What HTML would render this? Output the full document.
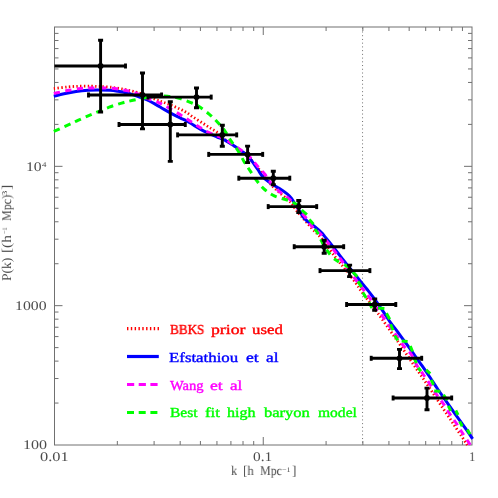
<!DOCTYPE html>
<html><head><meta charset="utf-8"><style>
html,body{margin:0;padding:0;background:#fff;}
#p{position:relative;width:498px;height:498px;overflow:hidden;background:#fff;font-family:"Liberation Serif",serif;color:#4c4c4c;}
.w{position:absolute;white-space:nowrap;line-height:1;transform-origin:0 0;display:block;will-change:transform;text-rendering:geometricPrecision;}
#yl{position:absolute;left:11.3px;top:281.0px;width:0;height:0;transform:rotate(-90deg);transform-origin:0 0;}
</style></head><body><div id="p">
<svg width="498" height="498" viewBox="0 0 498 498" style="position:absolute;left:0;top:0">
<defs><clipPath id="c"><rect x="54.5" y="27.0" width="417.5" height="418.0"/></clipPath></defs>
<g stroke="#707070" stroke-width="1" fill="none">
<rect x="54.5" y="27.0" width="417.5" height="418.0"/>
<path d="M117.34 445.0v-4 M117.34 27.0v4"/>
<path d="M154.10 445.0v-4 M154.10 27.0v4"/>
<path d="M180.18 445.0v-4 M180.18 27.0v4"/>
<path d="M200.41 445.0v-4 M200.41 27.0v4"/>
<path d="M216.94 445.0v-4 M216.94 27.0v4"/>
<path d="M230.91 445.0v-4 M230.91 27.0v4"/>
<path d="M243.02 445.0v-4 M243.02 27.0v4"/>
<path d="M253.70 445.0v-4 M253.70 27.0v4"/>
<path d="M263.25 445.0v-8 M263.25 27.0v8"/>
<path d="M326.09 445.0v-4 M326.09 27.0v4"/>
<path d="M362.85 445.0v-4 M362.85 27.0v4"/>
<path d="M388.93 445.0v-4 M388.93 27.0v4"/>
<path d="M409.16 445.0v-4 M409.16 27.0v4"/>
<path d="M425.69 445.0v-4 M425.69 27.0v4"/>
<path d="M439.66 445.0v-4 M439.66 27.0v4"/>
<path d="M451.77 445.0v-4 M451.77 27.0v4"/>
<path d="M462.45 445.0v-4 M462.45 27.0v4"/>
<path d="M54.5 403.06h4 M472.0 403.06h-4"/>
<path d="M54.5 378.52h4 M472.0 378.52h-4"/>
<path d="M54.5 361.11h4 M472.0 361.11h-4"/>
<path d="M54.5 347.61h4 M472.0 347.61h-4"/>
<path d="M54.5 336.58h4 M472.0 336.58h-4"/>
<path d="M54.5 327.25h4 M472.0 327.25h-4"/>
<path d="M54.5 319.17h4 M472.0 319.17h-4"/>
<path d="M54.5 312.04h4 M472.0 312.04h-4"/>
<path d="M54.5 305.67h8 M472.0 305.67h-8"/>
<path d="M54.5 263.72h4 M472.0 263.72h-4"/>
<path d="M54.5 239.19h4 M472.0 239.19h-4"/>
<path d="M54.5 221.78h4 M472.0 221.78h-4"/>
<path d="M54.5 208.28h4 M472.0 208.28h-4"/>
<path d="M54.5 197.24h4 M472.0 197.24h-4"/>
<path d="M54.5 187.92h4 M472.0 187.92h-4"/>
<path d="M54.5 179.84h4 M472.0 179.84h-4"/>
<path d="M54.5 172.71h4 M472.0 172.71h-4"/>
<path d="M54.5 166.33h8 M472.0 166.33h-8"/>
<path d="M54.5 124.39h4 M472.0 124.39h-4"/>
<path d="M54.5 99.85h4 M472.0 99.85h-4"/>
<path d="M54.5 82.45h4 M472.0 82.45h-4"/>
<path d="M54.5 68.94h4 M472.0 68.94h-4"/>
<path d="M54.5 57.91h4 M472.0 57.91h-4"/>
<path d="M54.5 48.58h4 M472.0 48.58h-4"/>
<path d="M54.5 40.50h4 M472.0 40.50h-4"/>
<path d="M54.5 33.38h4 M472.0 33.38h-4"/>
</g>
<path d="M362.55 27.75V445.0" stroke="#707070" stroke-width="1" stroke-dasharray="1 2.73" fill="none"/>
<g fill="none" stroke-linecap="butt" stroke-linejoin="round">
<path d="M53.80 88.60 C56.17 88.32 63.63 87.30 68.00 86.90 C72.37 86.50 76.10 86.32 80.00 86.20 C83.90 86.08 88.07 86.15 91.40 86.20 C94.73 86.25 96.90 86.35 100.00 86.50 C103.10 86.65 106.33 86.70 110.00 87.10 C113.67 87.50 118.25 88.22 122.00 88.90 C125.75 89.58 129.08 90.32 132.50 91.20 C135.92 92.08 138.58 92.78 142.50 94.20 C146.42 95.62 152.40 98.32 156.00 99.70 C159.60 101.08 161.42 101.52 164.10 102.50 C166.78 103.48 169.43 104.50 172.10 105.60 C174.77 106.70 177.68 107.93 180.10 109.10 C182.52 110.27 184.45 111.28 186.60 112.60 C188.75 113.92 190.58 115.42 193.00 117.00 C195.42 118.58 198.42 120.38 201.10 122.10 C203.78 123.82 206.43 125.60 209.10 127.30 C211.77 129.00 214.48 130.30 217.10 132.30 C219.72 134.30 222.32 137.30 224.80 139.30 C227.28 141.30 229.45 142.47 232.00 144.30 C234.55 146.13 237.68 148.52 240.10 150.30 C242.52 152.08 244.50 153.25 246.50 155.00 C248.50 156.75 250.28 158.72 252.10 160.80 C253.92 162.88 255.32 165.05 257.40 167.50 C259.48 169.95 262.33 172.67 264.60 175.50 C266.87 178.33 268.58 181.70 271.00 184.50 C273.42 187.30 276.15 189.63 279.10 192.30 C282.05 194.97 286.48 198.42 288.70 200.50 C290.92 202.58 291.05 203.07 292.40 204.80 C293.75 206.53 295.32 209.00 296.80 210.90 C298.28 212.80 299.68 214.32 301.30 216.20 C302.92 218.08 304.43 219.85 306.50 222.20 C308.57 224.55 311.18 227.58 313.70 230.30 C316.22 233.02 318.82 235.13 321.60 238.50 C324.38 241.87 327.78 246.98 330.40 250.50 C333.02 254.02 334.88 256.55 337.30 259.60 C339.72 262.65 341.82 264.90 344.90 268.80 C347.98 272.70 353.25 279.52 355.80 283.00 C358.35 286.48 358.33 287.07 360.20 289.70 C362.07 292.33 363.98 294.78 367.00 298.80 C370.02 302.82 374.33 308.35 378.30 313.80 C382.27 319.25 387.58 326.95 390.80 331.50 C394.02 336.05 394.00 335.87 397.60 341.10 C401.20 346.33 407.45 355.65 412.40 362.90 C417.35 370.15 422.78 377.90 427.30 384.60 C431.82 391.30 435.38 396.90 439.50 403.10 C443.62 409.30 447.83 415.53 452.00 421.80 C456.17 428.07 461.95 436.83 464.50 440.70 C467.05 444.57 466.83 444.28 467.30 445.00" stroke="#ff0000" stroke-width="2.8" stroke-dasharray="1.4 2.36"/>
<path d="M53.80 96.30 C55.50 95.87 60.28 94.52 64.00 93.70 C67.72 92.88 72.08 91.98 76.10 91.40 C80.12 90.82 84.28 90.43 88.10 90.20 C91.92 89.97 95.35 89.98 99.00 90.00 C102.65 90.02 106.83 90.08 110.00 90.30 C113.17 90.52 115.32 90.88 118.00 91.30 C120.68 91.72 123.42 92.17 126.10 92.80 C128.78 93.43 131.43 94.23 134.10 95.10 C136.77 95.97 139.55 97.02 142.10 98.00 C144.65 98.98 147.08 99.90 149.40 101.00 C151.72 102.10 153.55 103.20 156.00 104.60 C158.45 106.00 161.42 107.85 164.10 109.40 C166.78 110.95 169.43 112.48 172.10 113.90 C174.77 115.32 177.45 116.62 180.10 117.90 C182.75 119.18 185.85 120.45 188.00 121.60 C190.15 122.75 190.82 123.47 193.00 124.80 C195.18 126.13 198.42 128.15 201.10 129.60 C203.78 131.05 206.43 132.27 209.10 133.50 C211.77 134.73 214.48 135.88 217.10 137.00 C219.72 138.12 222.32 138.93 224.80 140.20 C227.28 141.47 229.45 142.95 232.00 144.60 C234.55 146.25 237.68 148.38 240.10 150.10 C242.52 151.82 244.50 153.03 246.50 154.90 C248.50 156.77 250.22 158.87 252.10 161.30 C253.98 163.73 255.98 166.88 257.80 169.50 C259.62 172.12 260.78 174.67 263.00 177.00 C265.22 179.33 268.42 181.62 271.10 183.50 C273.78 185.38 276.43 186.57 279.10 188.30 C281.77 190.03 285.03 192.22 287.10 193.90 C289.17 195.58 289.85 196.18 291.50 198.40 C293.15 200.62 294.90 203.93 297.00 207.20 C299.10 210.47 302.10 215.45 304.10 218.00 C306.10 220.55 307.27 221.08 309.00 222.50 C310.73 223.92 312.38 224.78 314.50 226.50 C316.62 228.22 319.98 231.12 321.70 232.80 C323.42 234.48 323.08 234.50 324.80 236.60 C326.52 238.70 329.45 242.18 332.00 245.40 C334.55 248.62 337.55 252.65 340.10 255.90 C342.65 259.15 344.28 261.15 347.30 264.90 C350.32 268.65 354.92 274.33 358.20 278.40 C361.48 282.47 364.45 286.08 367.00 289.30 C369.55 292.52 370.82 294.03 373.50 297.70 C376.18 301.37 380.35 307.28 383.10 311.30 C385.85 315.32 387.52 318.28 390.00 321.80 C392.48 325.32 395.32 328.80 398.00 332.40 C400.68 336.00 403.43 339.73 406.10 343.40 C408.77 347.07 411.35 350.68 414.00 354.40 C416.65 358.12 419.32 361.85 422.00 365.70 C424.68 369.55 427.60 373.78 430.10 377.50 C432.60 381.22 434.50 384.30 437.00 388.00 C439.50 391.70 442.42 395.85 445.10 399.70 C447.78 403.55 450.60 407.57 453.10 411.10 C455.60 414.63 457.60 417.40 460.10 420.90 C462.60 424.40 466.02 429.10 468.10 432.10 C470.18 435.10 471.85 437.77 472.60 438.90" stroke="#0000ff" stroke-width="3"/>
<path d="M53.80 93.40 C54.37 93.28 54.68 93.22 57.20 92.70 C59.72 92.18 65.02 90.98 68.90 90.30 C72.78 89.62 76.98 88.98 80.50 88.60 C84.02 88.22 86.42 88.10 90.00 88.00 C93.58 87.90 97.87 87.90 102.00 88.00 C106.13 88.10 110.72 88.17 114.80 88.60 C118.88 89.03 122.88 89.80 126.50 90.60 C130.12 91.40 132.92 92.08 136.50 93.40 C140.08 94.72 144.22 96.93 148.00 98.50 C151.78 100.07 155.92 101.35 159.20 102.80 C162.48 104.25 164.28 105.27 167.70 107.20 C171.12 109.13 175.98 112.10 179.70 114.40 C183.42 116.70 186.62 118.82 190.00 121.00 C193.38 123.18 196.82 125.58 200.00 127.50 C203.18 129.42 206.25 131.12 209.10 132.50 C211.95 133.88 214.48 134.72 217.10 135.80 C219.72 136.88 222.32 137.67 224.80 139.00 C227.28 140.33 229.45 142.03 232.00 143.80 C234.55 145.57 237.68 147.90 240.10 149.60 C242.52 151.30 244.50 152.35 246.50 154.00 C248.50 155.65 250.28 157.50 252.10 159.50 C253.92 161.50 255.32 163.58 257.40 166.00 C259.48 168.42 262.33 171.17 264.60 174.00 C266.87 176.83 268.58 180.12 271.00 183.00 C273.42 185.88 276.15 188.72 279.10 191.30 C282.05 193.88 285.72 195.80 288.70 198.50 C291.68 201.20 294.30 204.50 297.00 207.50 C299.70 210.50 302.52 213.47 304.90 216.50 C307.28 219.53 308.78 222.87 311.30 225.70 C313.82 228.53 317.15 230.58 320.00 233.50 C322.85 236.42 325.78 240.00 328.40 243.20 C331.02 246.40 333.48 249.78 335.70 252.70 C337.92 255.62 339.48 257.73 341.70 260.70 C343.92 263.67 346.58 267.22 349.00 270.50 C351.42 273.78 353.87 277.28 356.20 280.40 C358.53 283.52 360.72 286.25 363.00 289.20 C365.28 292.15 367.07 294.22 369.90 298.10 C372.73 301.98 376.65 307.68 380.00 312.50 C383.35 317.32 387.20 323.07 390.00 327.00 C392.80 330.93 394.45 332.85 396.80 336.10 C399.15 339.35 401.70 343.45 404.10 346.50 C406.50 349.55 409.02 351.17 411.20 354.40 C413.38 357.63 415.18 362.55 417.20 365.90 C419.22 369.25 421.27 371.60 423.30 374.50 C425.33 377.40 427.18 379.97 429.40 383.30 C431.62 386.63 434.32 391.17 436.60 394.50 C438.88 397.83 441.00 400.22 443.10 403.30 C445.20 406.38 447.03 409.72 449.20 413.00 C451.37 416.28 453.95 419.75 456.10 423.00 C458.25 426.25 460.03 429.32 462.10 432.50 C464.17 435.68 467.15 440.02 468.50 442.10 C469.85 444.18 469.92 444.52 470.20 445.00" stroke="#ff00ff" stroke-width="3" stroke-dasharray="6.3 5.37"/>
<path d="M53.80 131.40 C56.12 130.37 63.68 127.03 67.70 125.20 C71.72 123.37 74.40 121.98 77.90 120.40 C81.40 118.82 85.28 117.17 88.70 115.70 C92.12 114.23 94.98 113.02 98.40 111.60 C101.82 110.18 105.33 108.62 109.20 107.20 C113.07 105.78 117.65 104.25 121.60 103.10 C125.55 101.95 128.95 101.18 132.90 100.30 C136.85 99.42 141.12 98.48 145.30 97.80 C149.48 97.12 154.28 96.47 158.00 96.20 C161.72 95.93 164.08 95.85 167.60 96.20 C171.12 96.55 175.33 97.28 179.10 98.30 C182.87 99.32 187.02 101.02 190.20 102.30 C193.38 103.58 195.05 104.03 198.20 106.00 C201.35 107.97 205.95 111.48 209.10 114.10 C212.25 116.72 214.48 118.92 217.10 121.70 C219.72 124.48 222.45 127.55 224.80 130.80 C227.15 134.05 229.05 137.95 231.20 141.20 C233.35 144.45 235.62 147.02 237.70 150.30 C239.78 153.58 241.83 157.78 243.70 160.90 C245.57 164.02 246.62 165.57 248.90 169.00 C251.18 172.43 254.78 178.08 257.40 181.50 C260.02 184.92 261.78 187.10 264.60 189.50 C267.42 191.90 270.82 194.23 274.30 195.90 C277.78 197.57 283.12 198.73 285.50 199.50 C287.88 200.27 288.08 200.33 288.60 200.50" stroke="#00ff00" stroke-width="3" stroke-dasharray="6.5 5.15"/>
<path d="M292.7 202.2L298.5 205.4 M301.7 210.0L306.9 214.6 M309.3 219.4L313.5 224.2 M314.9 229.0L318.5 234.2 M320.7 239.3L323.6 245.2 M326.5 249.6L330.1 254.5 M334.0 258.8L338.9 262.1 M344.3 264.5L349.7 267.9 M352.8 272.0L357.3 276.6 M358.0 281.4L361.6 287.1 M362.9 292.5L366.2 298.0 M369.0 302.2L372.0 308.0 M378.0 307.9L384.4 308.5 M386.4 313.3L389.7 319.3 M390.6 324.2L393.0 330.2 M394.7 335.5L397.8 340.4 M401.7 341.0L407.6 341.6 M410.3 346.0L412.5 351.5 M413.6 357.0L416.4 363.2 M418.2 367.7L421.0 371.2 M426.1 369.8L430.2 373.6 M431.3 379.9L433.5 384.8 M434.2 391.0L440.3 391.3 M443.5 394.7L447.1 400.2 M448.3 405.9L450.8 410.9 M455.8 410.5L458.0 415.0 M459.7 421.4L462.2 426.2 M467.3 429.5L470.0 434.3" stroke="#00ff00" stroke-width="3"/>
</g>
<g stroke="#000" stroke-width="2.9" fill="none">
<path d="M54.5 66.0H125.5 M100.6 40.3V112.0"/>
<path d="M125.5 63.5v5"/>
<path d="M98.1 40.3h5 M98.1 112.0h5"/>
<circle cx="100.6" cy="66.0" r="2.9" fill="#000" stroke="none"/>
<path d="M88.5 95.0H161.6 M142.5 73.0V128.9"/>
<path d="M88.5 92.5v5"/>
<path d="M161.6 92.5v5"/>
<path d="M140.0 73.0h5 M140.0 128.9h5"/>
<circle cx="142.5" cy="95.0" r="2.9" fill="#000" stroke="none"/>
<path d="M119.0 124.5H185.3 M170.3 101.7V161.4"/>
<path d="M119.0 122.0v5"/>
<path d="M185.3 122.0v5"/>
<path d="M167.8 101.7h5 M167.8 161.4h5"/>
<circle cx="170.3" cy="124.5" r="2.9" fill="#000" stroke="none"/>
<path d="M148.0 97.1H211.2 M196.5 88.0V107.8"/>
<path d="M148.0 94.6v5"/>
<path d="M211.2 94.6v5"/>
<path d="M194.0 88.0h5 M194.0 107.8h5"/>
<circle cx="196.5" cy="97.1" r="2.9" fill="#000" stroke="none"/>
<path d="M177.6 134.9H236.7 M222.3 125.2V146.3"/>
<path d="M177.6 132.4v5"/>
<path d="M236.7 132.4v5"/>
<path d="M219.8 125.2h5 M219.8 146.3h5"/>
<circle cx="222.3" cy="134.9" r="2.9" fill="#000" stroke="none"/>
<path d="M208.7 154.4H262.7 M247.6 146.1V162.6"/>
<path d="M208.7 151.9v5"/>
<path d="M262.7 151.9v5"/>
<path d="M245.1 146.1h5 M245.1 162.6h5"/>
<circle cx="247.6" cy="154.4" r="2.9" fill="#000" stroke="none"/>
<path d="M238.8 178.2H289.8 M273.3 171.2V184.7"/>
<path d="M238.8 175.7v5"/>
<path d="M289.8 175.7v5"/>
<path d="M270.8 171.2h5 M270.8 184.7h5"/>
<circle cx="273.3" cy="178.2" r="2.9" fill="#000" stroke="none"/>
<path d="M268.2 206.6H316.7 M298.8 200.5V212.6"/>
<path d="M268.2 204.1v5"/>
<path d="M316.7 204.1v5"/>
<path d="M296.3 200.5h5 M296.3 212.6h5"/>
<circle cx="298.8" cy="206.6" r="2.9" fill="#000" stroke="none"/>
<path d="M294.2 246.7H343.7 M324.2 240.3V253.3"/>
<path d="M294.2 244.2v5"/>
<path d="M343.7 244.2v5"/>
<path d="M321.7 240.3h5 M321.7 253.3h5"/>
<circle cx="324.2" cy="246.7" r="2.9" fill="#000" stroke="none"/>
<path d="M320.0 270.6H369.9 M349.6 265.1V276.6"/>
<path d="M320.0 268.1v5"/>
<path d="M369.9 268.1v5"/>
<path d="M347.1 265.1h5 M347.1 276.6h5"/>
<circle cx="349.6" cy="270.6" r="2.9" fill="#000" stroke="none"/>
<path d="M346.6 304.5H395.8 M374.7 298.9V310.3"/>
<path d="M346.6 302.0v5"/>
<path d="M395.8 302.0v5"/>
<path d="M372.2 298.9h5 M372.2 310.3h5"/>
<circle cx="374.7" cy="304.5" r="2.9" fill="#000" stroke="none"/>
<path d="M371.2 358.3H421.7 M399.5 349.4V368.6"/>
<path d="M371.2 355.8v5"/>
<path d="M421.7 355.8v5"/>
<path d="M397.0 349.4h5 M397.0 368.6h5"/>
<circle cx="399.5" cy="358.3" r="2.9" fill="#000" stroke="none"/>
<path d="M393.1 398.0H451.7 M427.0 388.1V409.8"/>
<path d="M393.1 395.5v5"/>
<path d="M451.7 395.5v5"/>
<path d="M424.5 388.1h5 M424.5 409.8h5"/>
<circle cx="427.0" cy="398.0" r="2.9" fill="#000" stroke="none"/>
</g>
<g fill="none" stroke-width="3">
<path d="M127 328.6H159.3" stroke="#ff0000" stroke-width="3.2" stroke-dasharray="1.4 2.42"/>
<path d="M127 356.5H158.8" stroke="#0000ff" stroke-width="3.2"/>
<path d="M127 384.5H159" stroke="#ff00ff" stroke-width="3.2" stroke-dasharray="7.2 4.5"/>
<path d="M127 412.5H159" stroke="#00ff00" stroke-width="3.2" stroke-dasharray="7.0 4.7"/>
</g>
</svg>
<span class="w" id="w0" style="left:169.52px;top:323.04px;font-size:13.8px;transform:scale(0.9540,1.000);color:#ff0000;-webkit-text-stroke:0.38px #ff0000;">BBKS</span>
<span class="w" id="w1" style="left:210.64px;top:323.04px;font-size:13.8px;transform:scale(1.2830,1.000);color:#ff0000;-webkit-text-stroke:0.38px #ff0000;">prior</span>
<span class="w" id="w2" style="left:251.66px;top:323.04px;font-size:13.8px;transform:scale(1.2169,1.000);color:#ff0000;-webkit-text-stroke:0.38px #ff0000;">used</span>
<span class="w" id="w3" style="left:169.41px;top:351.04px;font-size:13.8px;transform:scale(1.2193,1.000);color:#0000ff;-webkit-text-stroke:0.38px #0000ff;">Efstathiou</span>
<span class="w" id="w4" style="left:246.06px;top:351.04px;font-size:13.8px;transform:scale(1.2766,1.000);color:#0000ff;-webkit-text-stroke:0.38px #0000ff;">et</span>
<span class="w" id="w5" style="left:265.88px;top:351.04px;font-size:13.8px;transform:scale(1.2500,1.000);color:#0000ff;-webkit-text-stroke:0.38px #0000ff;">al</span>
<span class="w" id="w6" style="left:170.00px;top:378.94px;font-size:13.8px;transform:scale(1.0570,1.000);color:#ff00ff;-webkit-text-stroke:0.38px #ff00ff;">Wang</span>
<span class="w" id="w7" style="left:209.56px;top:378.94px;font-size:13.8px;transform:scale(1.2766,1.000);color:#ff00ff;-webkit-text-stroke:0.38px #ff00ff;">et</span>
<span class="w" id="w8" style="left:229.69px;top:378.94px;font-size:13.8px;transform:scale(1.2283,1.000);color:#ff00ff;-webkit-text-stroke:0.38px #ff00ff;">al</span>
<span class="w" id="w9" style="left:169.55px;top:406.44px;font-size:13.8px;transform:scale(1.1245,1.000);color:#00ff00;-webkit-text-stroke:0.38px #00ff00;">Best</span>
<span class="w" id="w10" style="left:205.31px;top:406.44px;font-size:13.8px;transform:scale(1.2203,1.000);color:#00ff00;-webkit-text-stroke:0.38px #00ff00;">fit</span>
<span class="w" id="w11" style="left:227.08px;top:406.44px;font-size:13.8px;transform:scale(1.1605,1.000);color:#00ff00;-webkit-text-stroke:0.38px #00ff00;">high</span>
<span class="w" id="w12" style="left:263.60px;top:406.44px;font-size:13.8px;transform:scale(1.1969,1.000);color:#00ff00;-webkit-text-stroke:0.38px #00ff00;">baryon</span>
<span class="w" id="w13" style="left:317.86px;top:406.44px;font-size:13.8px;transform:scale(1.1268,1.000);color:#00ff00;-webkit-text-stroke:0.38px #00ff00;">model</span>
<span class="w" id="w14" style="left:26.38px;top:159.96px;font-size:13.3px;transform:scale(1.1810,1.000);">10</span>
<span class="w" id="w15" style="left:41.78px;top:161.40px;font-size:7.4px;transform:scale(1.2000,1.000);">4</span>
<span class="w" id="w16" style="left:15.18px;top:299.16px;font-size:13.3px;transform:scale(1.1847,1.000);">1000</span>
<span class="w" id="w17" style="left:22.85px;top:438.26px;font-size:13.3px;transform:scale(1.2077,1.000);">100</span>
<span class="w" id="w18" style="left:39.58px;top:450.16px;font-size:13.3px;transform:scale(1.2318,1.000);">0.01</span>
<span class="w" id="w19" style="left:253.32px;top:449.96px;font-size:13.3px;transform:scale(1.1569,1.000);">0.1</span>
<span class="w" id="w20" style="left:468.58px;top:449.66px;font-size:13.3px;transform:scale(0.9362,1.000);">1</span>
<span class="w" id="w21" style="left:230.92px;top:464.38px;font-size:13.4px;transform:scale(0.9077,1.000);">k</span>
<span class="w" id="w22" style="left:242.54px;top:464.38px;font-size:13.4px;transform:scale(0.9600,1.000);">[h</span>
<span class="w" id="w23" style="left:260.34px;top:464.38px;font-size:13.4px;transform:scale(0.8950,1.000);">Mpc</span>
<span class="w" id="w24" style="left:282.46px;top:466.54px;font-size:7px;transform:scale(1.1493,1.000);">−1</span>
<span class="w" id="w25" style="left:292.02px;top:464.38px;font-size:13.4px;transform:scale(0.9667,1.000);">]</span>
<div id="yl"><span class="w" id="w26" style="left:-0.41px;top:-11.22px;font-size:13.4px;transform:scale(1.0136,1.000);">P(k)</span>
<span class="w" id="w27" style="left:27.86px;top:-11.22px;font-size:13.4px;transform:scale(1.1448,1.000);">[(h</span>
<span class="w" id="w28" style="left:46.53px;top:-8.76px;font-size:7px;transform:scale(0.8955,1.000);">−1</span>
<span class="w" id="w29" style="left:60.24px;top:-11.22px;font-size:13.4px;transform:scale(0.9036,1.000);">Mpc)</span>
<span class="w" id="w30" style="left:85.03px;top:-8.76px;font-size:7px;transform:scale(1.5517,1.000);">3</span>
<span class="w" id="w31" style="left:90.80px;top:-11.22px;font-size:13.4px;transform:scale(1.2000,1.000);">]</span></div>
</div></body></html>
